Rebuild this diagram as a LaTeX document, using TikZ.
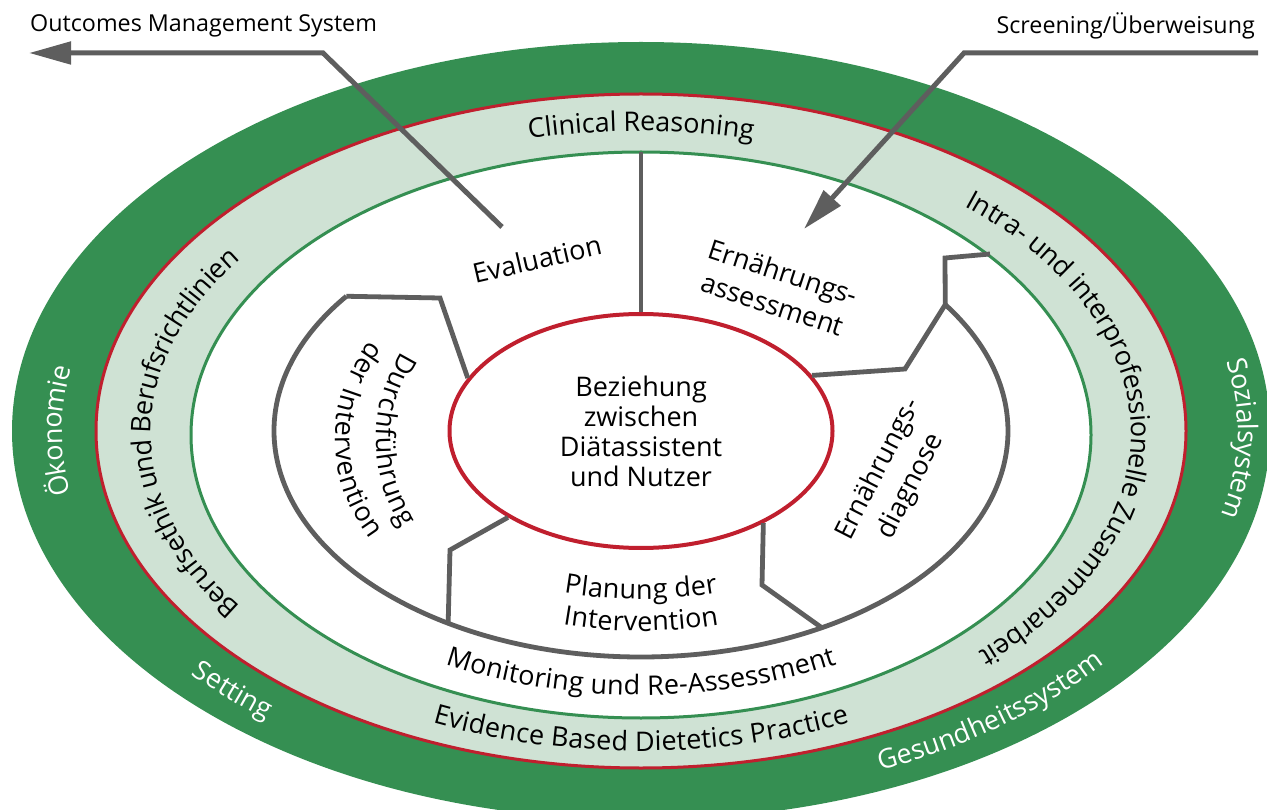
\documentclass[tikz,border=0pt]{standalone}
\usepackage{fontspec}
\setmainfont{Open Sans}
\usetikzlibrary{shapes.geometric,arrows.meta,decorations.text}
\definecolor{ringgreen}{HTML}{358F52}
\definecolor{bandgreen}{HTML}{CFE2D4}
\definecolor{ringred}{HTML}{C01F2E}
\definecolor{linegrey}{HTML}{5E5E5E}

\tikzset{
  divider/.style={draw=linegrey, line width=4.8pt},
  flowarrow/.style={draw=linegrey, line width=5pt, -{Triangle[length=42pt,width=22pt]}},
  ringtext/.style={decorate, decoration={text along path, text={#1}, text align=center, raise=-8pt}},
  whitetext/.style={decorate, decoration={text along path, text={#1}, text align=center, raise=-8pt, text color=white}},
  steplabel/.style={align=center, inner sep=0pt},
}

\begin{document}
\begin{tikzpicture}[x=1pt, y=-1pt]
  \fontsize{27}{30}\selectfont
  \useasboundingbox (0,0) rectangle (1267,810);
  \clip (0,0) rectangle (1267,810);

  % Rings
  \fill[ringgreen] (641,431) ellipse [x radius=629, y radius=389];
  \filldraw[fill=bandgreen, draw=ringred, line width=3pt] (641,431) ellipse [x radius=545, y radius=337];
  \filldraw[fill=white, draw=ringgreen, line width=3pt] (641,435) ellipse [x radius=450, y radius=283];

  % Process arc
  \coordinate (arcL) at ([shift={(641,431)}]216.6:367 and 226);
  \coordinate (arcR) at ([shift={(641,431)}]326:367 and 226);
  \coordinate (arcLL) at ([shift={(641,431)}]121.7:367 and 226);
  \coordinate (arcLR) at ([shift={(641,431)}]60.5:367 and 226);
  \coordinate (ringTop) at (641,152);
  \coordinate (ringUR) at (990,254);
  \draw[divider] (arcL) arc[start angle=216.6, end angle=-34, x radius=367, y radius=226];

  % Centre
  \node[ellipse, draw=ringred, line width=4pt, minimum width=383pt, minimum height=234pt,
        inner sep=0pt, align=center] (core) at (641,431) {Beziehung\\zwischen\\Diätassistent\\und Nutzer};

  % Dividers
  \draw[divider] (core.north) -- (ringTop);
  \draw[divider] (core.163) -- (440,298) -- (arcL);
  \draw[divider] (core.18) -- (905,369) -- (arcR) -- (945,258) -- (ringUR);
  \draw[divider] (core.213) -- (450,550) -- (arcLL);
  \draw[divider] (core.323) -- (762,585) -- (arcLR);

  % Steps
  \node[steplabel, rotate=13] (evaluation) at (537,259) {Evaluation};
  \node[steplabel, rotate=-18] (assessment) at (778,288) {Ernährungs-\\[4pt]assessment};
  \node[steplabel, rotate=63] (diagnose) at (895,478) {Ernährungs-\\[6pt]diagnose};
  \path[ringtext={Durchführung}] ([shift={(641,440)}]215:257 and 195) arc[start angle=215, end angle=145, x radius=257, y radius=195];
  \path[ringtext={der Intervention}] ([shift={(641,440)}]215:298 and 205) arc[start angle=215, end angle=145, x radius=298, y radius=205];
  \path[ringtext={Planung der}] ([shift={(641,431)}]120:274 and 160) arc[start angle=120, end angle=60, x radius=274, y radius=160];
  \path[ringtext={Intervention}] ([shift={(641,431)}]120:300 and 192) arc[start angle=120, end angle=60, x radius=300, y radius=192];
  \path[ringtext={Monitoring und Re-Assessment}] ([shift={(641,431)}]140:409 and 256) arc[start angle=140, end angle=40, x radius=409, y radius=256];

  % Light band
  \path[ringtext={Clinical Reasoning}] ([shift={(641,433)}]240:498 and 310) arc[start angle=240, end angle=300, x radius=498, y radius=310];
  \path[ringtext={Intra- und interprofessionelle Zusammenarbeit}] ([shift={(641,433)}]-62:498 and 310) arc[start angle=-62, end angle=60, x radius=498, y radius=310];
  \path[ringtext={Berufsethik und Berufsrichtlinien}] ([shift={(641,433)}]120:498 and 310) arc[start angle=120, end angle=240, x radius=498, y radius=310];
  \path[ringtext={Evidence Based Dietetics Practice}] ([shift={(641,433)}]130:498 and 310) arc[start angle=130, end angle=50, x radius=498, y radius=310];

  % Outer band
  \path[whitetext={Ökonomie}] ([shift={(641,431)}]150:587 and 363) arc[start angle=150, end angle=210, x radius=587, y radius=363];
  \path[whitetext={Setting}] ([shift={(641,431)}]161.5:587 and 363) arc[start angle=161.5, end angle=111.5, x radius=587, y radius=363];
  \path[whitetext={Gesundheitssystem}] ([shift={(641,431)}]78:587 and 363) arc[start angle=78, end angle=23, x radius=587, y radius=363];
  \path[whitetext={Sozialsystem}] ([shift={(641,431)}]-30:605 and 363) arc[start angle=-30, end angle=32, x radius=605, y radius=363];

  % Arrows
  \coordinate (omsTip) at (29,53);
  \coordinate (evalEnd) at (502,227);
  \coordinate (screenStart) at (1258,53);
  \coordinate (assessTip) at (804,229);
  \draw[flowarrow] (evalEnd) -- (323,53) -- (omsTip);
  \draw[flowarrow] (screenStart) -- (964,53) -- (assessTip);
  \node[anchor=base west, inner sep=0pt, font=\fontsize{23.3}{27}\selectfont] (oms) at (30,32) {Outcomes Management System};
  \node[anchor=base east, inner sep=0pt, font=\fontsize{23.3}{27}\selectfont] (screening) at (1255,34) {Screening/Überweisung};
\end{tikzpicture}
\end{document}
